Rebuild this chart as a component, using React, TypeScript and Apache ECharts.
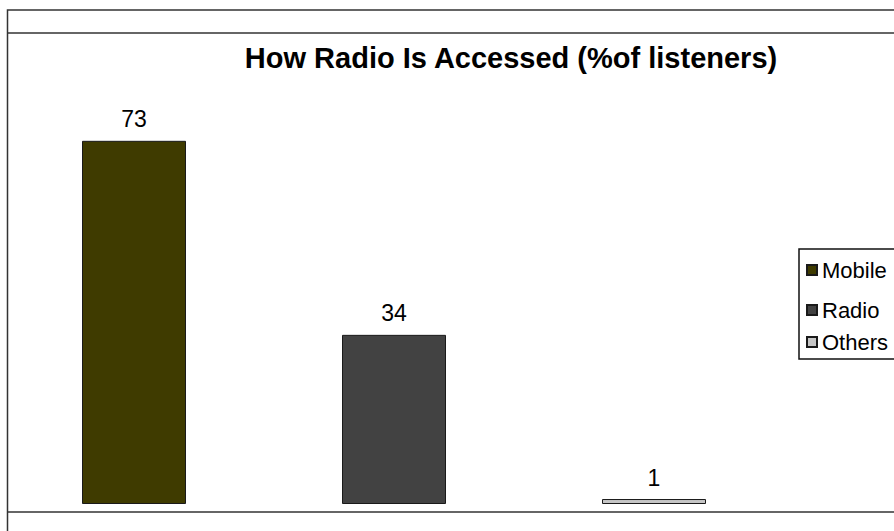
import React, { useEffect, useRef } from "react";
import * as echarts from "echarts";

const titleText = "How Radio Is Accessed (%of listeners)";
const categories = ["Access"];
const seriesNames = ["Mobile", "Radio", "Others"];
const seriesValues = [73, 34, 1];
const seriesColors = ["#3f3b00", "#424242", "#c6c6c6"];
const yMax = 80;

const FONT = "'Liberation Sans', Arial, Helvetica, sans-serif";

// legend layout (style only)
const legendTops = [259, 299, 331];

export default function App() {
  const ref = useRef<HTMLDivElement>(null);
  useEffect(() => {
    if (!ref.current) return;
    const chart = echarts.init(ref.current, undefined, { renderer: "svg" });
    chart.setOption({
      animation: false,
      backgroundColor: "#ffffff",
      grid: { left: 44, width: 700, top: 106, bottom: 27 },
      xAxis: { type: "category", data: categories, show: false },
      yAxis: { type: "value", min: 0, max: yMax, show: false },
      legend: seriesNames.map((name, i) => ({
        orient: "vertical",
        left: 806,
        top: legendTops[i],
        icon: "rect",
        itemWidth: 10,
        itemHeight: 10,
        padding: 0,
        textStyle: {
          fontSize: 22,
          color: "#000",
          fontFamily: FONT,
        },
        data: [name],
      })),
      graphic: [
        {
          type: "rect",
          shape: { x: 7.5, y: 10, width: 900, height: 540 },
          style: { fill: "none", stroke: "#333", lineWidth: 1.5 },
          silent: true,
        },
        {
          type: "line",
          shape: { x1: 7.5, y1: 33, x2: 900, y2: 33 },
          style: { stroke: "#333", lineWidth: 1.5 },
          silent: true,
        },
        {
          type: "line",
          shape: { x1: 7.5, y1: 512, x2: 900, y2: 512 },
          style: { stroke: "#333", lineWidth: 1.5 },
          silent: true,
        },
        {
          type: "rect",
          shape: { x: 799, y: 249, width: 130, height: 110 },
          style: { fill: "none", stroke: "#111", lineWidth: 1.5 },
          silent: true,
        },
        {
          type: "text",
          x: 511,
          y: 58,
          style: {
            text: titleText,
            textAlign: "center",
            textVerticalAlign: "middle",
            fontSize: 29,
            fontWeight: "bold",
            fontFamily: FONT,
            fill: "#000",
          },
        },
      ],
      series: seriesNames.map((name, i) => ({
        type: "bar",
        name,
        data: [seriesValues[i]],
        barWidth: 104,
        barGap: "150%",
        itemStyle: { color: seriesColors[i], borderColor: "#1a1a1a", borderWidth: 1 },
        label: {
          show: true,
          position: "top",
          distance: 10,
          fontSize: 23,
          color: "#000",
          fontFamily: FONT,
        },
      })),
    });
    return () => chart.dispose();
  }, []);
  return (
    <div
      ref={ref}
      style={{ position: "absolute", left: 0, top: 0, width: 894, height: 531 }}
    />
  );
}
